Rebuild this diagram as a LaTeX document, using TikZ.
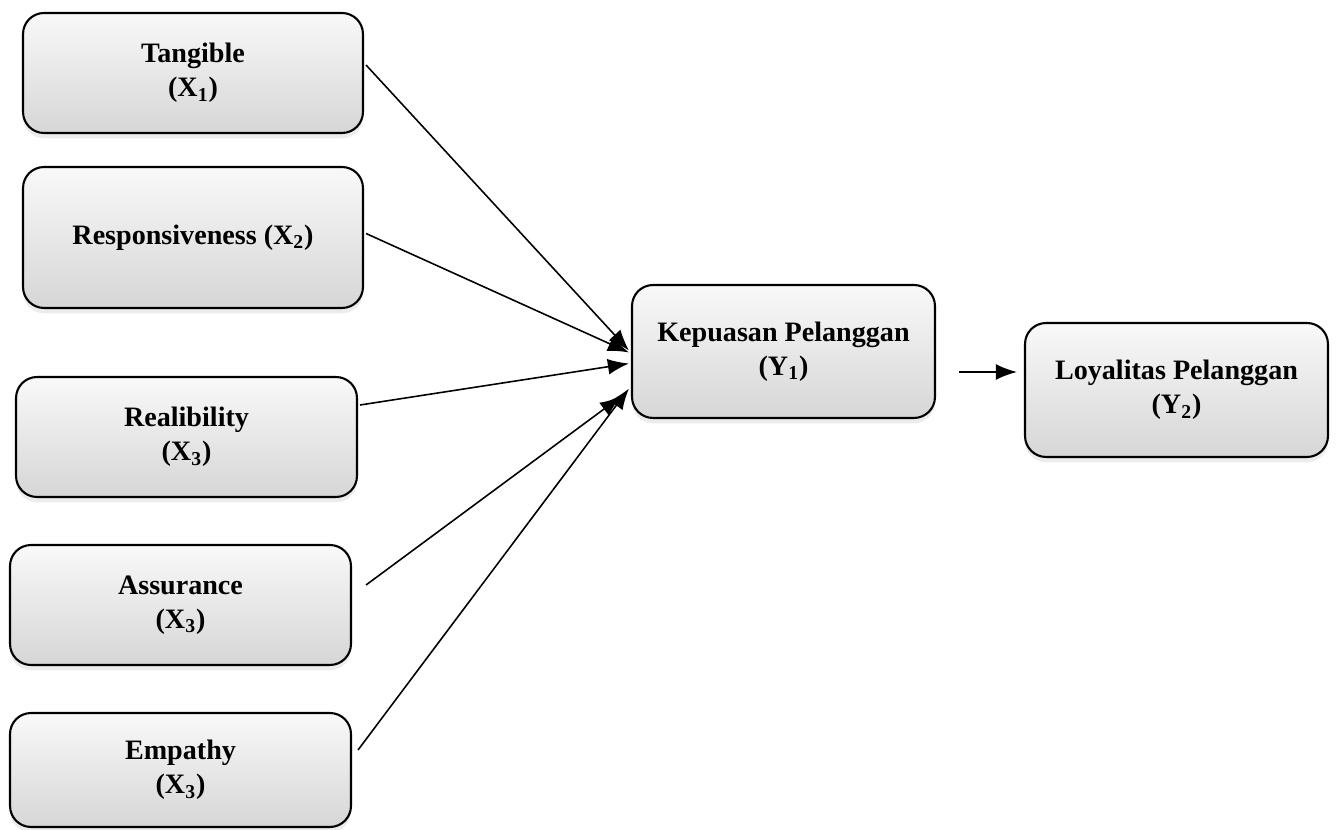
\documentclass[tikz,border=0pt]{standalone}
\usepackage{fontspec}
\setmainfont{Liberation Serif}
\usetikzlibrary{arrows.meta,positioning,calc,shadows}

\begin{document}
\begin{tikzpicture}[x=0.02cm,y=-0.02cm,
        factor/.style={draw, line width=1.2pt, rounded corners=0.42cm,
            top color=gray!5, bottom color=gray!32,
            drop shadow={shadow xshift=0pt, shadow yshift=-3pt, fill=gray!25, opacity=0.6},
            align=center, font=\fontsize{16}{19.3}\selectfont\bfseries},
        link/.style={-{Latex[length=12pt,width=9pt]}, line width=0.9pt}]
        \useasboundingbox (0,0) rectangle (1336,830);

        % Independent variables
        \node[factor, minimum width=6.8cm, minimum height=2.4cm] (tangible) at (193,73) {Tangible\\(X\textsubscript{1})};
        \node[factor, minimum width=6.8cm, minimum height=2.82cm] (respon) at (193,237.5) {Responsiveness (X\textsubscript{2})};
        \node[factor, minimum width=6.82cm, minimum height=2.4cm] (reali) at (186.5,437) {Realibility\\(X\textsubscript{3})};
        \node[factor, minimum width=6.82cm, minimum height=2.4cm] (assur) at (180.5,605) {Assurance\\(X\textsubscript{3})};
        \node[factor, minimum width=6.82cm, minimum height=2.28cm] (empathy) at (180.5,770) {Empathy\\(X\textsubscript{3})};

        % Dependent variables
        \node[factor, minimum width=6.06cm, minimum height=2.66cm] (kepuasan) at (783.5,351.5) {Kepuasan Pelanggan\\(Y\textsubscript{1})};
        \node[factor, minimum width=6.06cm, minimum height=2.68cm] (loyal) at (1176.5,390) {Loyalitas Pelanggan\\(Y\textsubscript{2})};

        % Arcs into Kepuasan Pelanggan
        \draw[link] ($(tangible.east)+(2,-8)$) -- ($(kepuasan.west)+(-2,-1)$);
        \draw[link] ($(respon.east)+(2,-4)$) -- ($(kepuasan.west)+(-2,1)$);
        \draw[link] ($(reali.east)+(2,-32)$) -- ($(kepuasan.west)+(-2,12)$);
        \draw[link] ($(assur.east)+(14,-20)$) -- ($(kepuasan.west)+(-10,45)$);
        \draw[link] ($(empathy.east)+(6,-20)$) -- ($(kepuasan.west)+(-2,37)$);

        % Free arrow to Loyalitas Pelanggan
        \coordinate (kout) at (959,372);
        \coordinate (lin) at (1017,372);
        \draw[link] (kout) -- (lin);
    \end{tikzpicture}
\end{document}
